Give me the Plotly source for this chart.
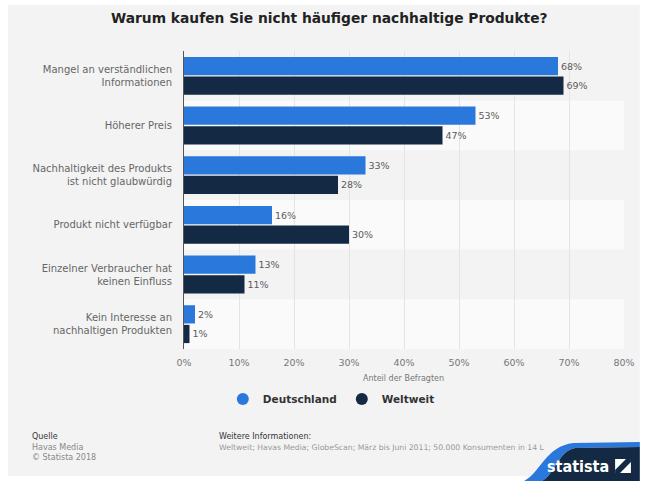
import plotly.graph_objects as go

categories = [
    "Mangel an verständlichen<br>Informationen",
    "Höherer Preis",
    "Nachhaltigkeit des Produkts<br>ist nicht glaubwürdig",
    "Produkt nicht verfügbar",
    "Einzelner Verbraucher hat<br>keinen Einfluss",
    "Kein Interesse an<br>nachhaltigen Produkten",
]
deutschland = [68, 53, 33, 16, 13, 2]
weltweit = [69, 47, 28, 30, 11, 1]
series_names = ["Deutschland", "Weltweit"]
x_ticks = [0, 10, 20, 30, 40, 50, 60, 70, 80]

W, H = 647, 481
L, R, T, B = 184, 629, 51, 349
BLUE = "#2a78dc"
NAVY = "#142a44"
FONT = "DejaVu Sans, Arial, sans-serif"


def px(x):
    return (x - L) / (R - L)


def py(y):
    return (B - y) / (B - T)


fig = go.Figure()
for name, vals, col in [(series_names[0], deutschland, BLUE), (series_names[1], weltweit, NAVY)]:
    fig.add_trace(go.Bar(
        y=categories, x=vals, orientation="h", name=name,
        marker=dict(color=col, line=dict(width=0)),
        text=[f"{v}%" for v in vals], textposition="outside",
        textfont=dict(size=9.5, color="#5a5a5a", family=FONT),
        cliponaxis=False, showlegend=False,
    ))
    fig.add_trace(go.Scatter(
        x=[None], y=[None], mode="markers", name=name,
        marker=dict(color=col, size=11, symbol="circle"),
    ))

shapes = []
# outer light gray background
shapes.append(dict(type="rect", xref="paper", yref="paper", layer="below",
                   x0=px(6), x1=px(645), y0=py(476), y1=py(5),
                   fillcolor="#f3f3f3", line=dict(width=0)))
# alternating bands
for i in range(len(categories)):
    shapes.append(dict(type="rect", xref="paper", yref="y", layer="below",
                       x0=0, x1=1, y0=i - 0.5, y1=i + 0.5,
                       fillcolor="#f3f3f3" if i % 2 == 0 else "#fafafa",
                       line=dict(width=0)))

# statista logo swoosh
blue_path = (f"M {px(528)},{py(481)} C {px(545)},{py(472)} {px(550)},{py(446)} {px(578)},{py(443)} "
             f"L {px(645)},{py(442)} L {px(645)},{py(447)} L {px(580)},{py(448)} "
             f"C {px(562)},{py(451)} {px(560)},{py(474)} {px(546)},{py(481)} Z")
navy_path = (f"M {px(546)},{py(481)} C {px(560)},{py(474)} {px(562)},{py(451)} {px(580)},{py(448)} "
             f"L {px(645)},{py(447)} L {px(645)},{py(481)} Z")
shapes.append(dict(type="path", xref="paper", yref="paper", path=blue_path,
                   fillcolor=BLUE, line=dict(width=0), layer="above"))
shapes.append(dict(type="path", xref="paper", yref="paper", path=navy_path,
                   fillcolor=NAVY, line=dict(width=0), layer="above"))
# logo icon
shapes.append(dict(type="rect", xref="paper", yref="paper", x0=px(620), x1=px(636),
                   y0=py(473), y1=py(459), fillcolor="white", line=dict(width=0), layer="above"))
icon_path = (f"M {px(620)},{py(470)} L {px(631)},{py(459)} L {px(636)},{py(459)} "
             f"L {px(636)},{py(462)} L {px(625)},{py(473)} L {px(620)},{py(473)} Z")
shapes.append(dict(type="path", xref="paper", yref="paper", path=icon_path,
                   fillcolor=NAVY, line=dict(width=0), layer="above"))

annotations = [
    dict(text="<b>Warum kaufen Sie nicht häufiger nachhaltige Produkte?</b>",
         x=px(331), y=py(18), xref="paper", yref="paper", showarrow=False,
         font=dict(size=13.8, color="#222222", family=FONT), xanchor="center", yanchor="middle"),
    dict(text="Anteil der Befragten", x=px(406), y=py(378), xref="paper", yref="paper",
         showarrow=False, font=dict(size=8, color="#777777", family=FONT),
         xanchor="center", yanchor="middle"),
    dict(text="Quelle", x=px(28), y=py(436), xref="paper", yref="paper", showarrow=False,
         font=dict(size=8, color="#333333", family=FONT), xanchor="left", yanchor="middle"),
    dict(text="Havas Media", x=px(28), y=py(447), xref="paper", yref="paper", showarrow=False,
         font=dict(size=8, color="#888888", family=FONT), xanchor="left", yanchor="middle"),
    dict(text="© Statista 2018", x=px(28), y=py(457), xref="paper", yref="paper", showarrow=False,
         font=dict(size=8, color="#888888", family=FONT), xanchor="left", yanchor="middle"),
    dict(text="Weitere Informationen:", x=px(217), y=py(436), xref="paper", yref="paper",
         showarrow=False, font=dict(size=8, color="#333333", family=FONT),
         xanchor="left", yanchor="middle"),
    dict(text="Weltweit; Havas Media; GlobeScan; März bis Juni 2011; 50.000 Konsumenten in 14 L",
         x=px(217), y=py(447), xref="paper", yref="paper", showarrow=False,
         font=dict(size=7.7, color="#999999", family=FONT), xanchor="left", yanchor="middle"),
    dict(text="<b>statista</b>", x=px(582), y=py(466), xref="paper", yref="paper",
         showarrow=False, font=dict(size=16, color="white", family="DejaVu Sans Condensed, DejaVu Sans"),
         xanchor="center", yanchor="middle"),
]

fig.update_layout(
    width=W, height=H,
    margin=dict(l=L, r=W - R, t=T, b=H - B, pad=0),
    paper_bgcolor="white", plot_bgcolor="rgba(0,0,0,0)",
    barmode="group", bargap=0.21, bargroupgap=0.07,
    font=dict(family=FONT, color="#666666"),
    shapes=shapes, annotations=annotations,
    legend=dict(orientation="h", x=px(333), y=py(399), xanchor="center", yanchor="middle",
                font=dict(size=10.5, color="#333333", family=FONT, weight="bold"),
                bgcolor="rgba(0,0,0,0)", itemsizing="constant", traceorder="normal",
                itemwidth=30),
    showlegend=True,
)
fig.update_xaxes(range=[0, 80], tickvals=x_ticks, ticktext=[f"{v}%" for v in x_ticks],
                 showgrid=True, gridcolor="#e4e4e4", gridwidth=1, zeroline=False,
                 tickfont=dict(size=9.5, color="#777777", family=FONT),
                 ticks="outside", ticklen=5, tickcolor="rgba(0,0,0,0)", fixedrange=True)
fig.update_yaxes(autorange="reversed", showgrid=False, showline=True, linecolor="#555555",
                 linewidth=1, tickfont=dict(size=10, color="#666666", family=FONT),
                 ticks="outside", ticklen=9, tickcolor="rgba(0,0,0,0)", fixedrange=True)

fig.write_html("out.html")
